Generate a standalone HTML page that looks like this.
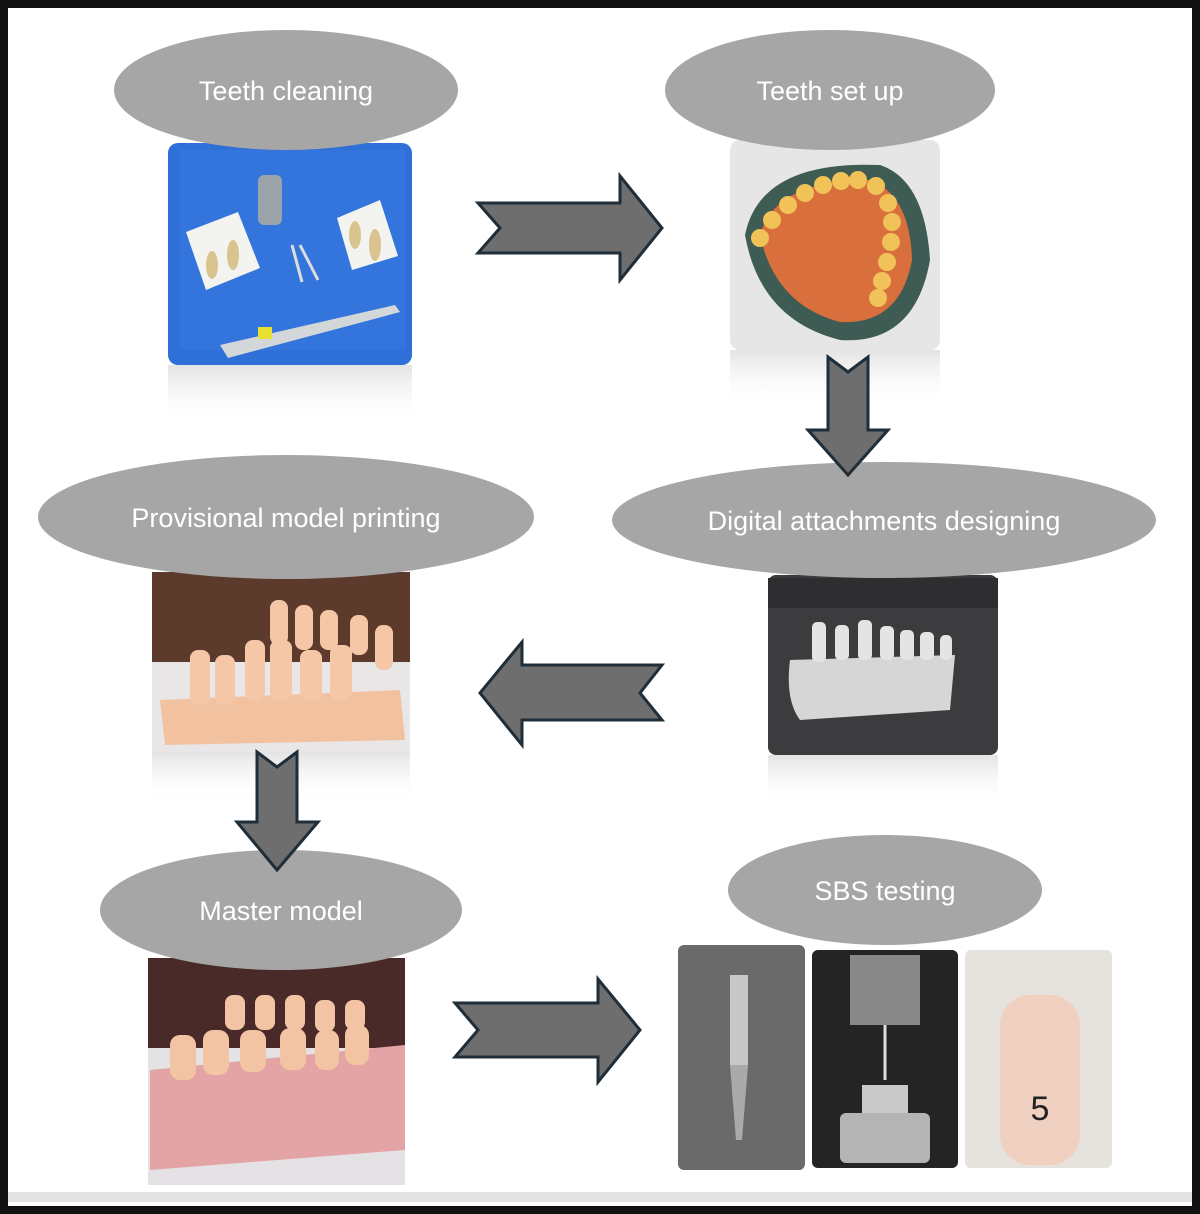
<!DOCTYPE html>
<html><head><meta charset="utf-8"><style>
html,body{margin:0;padding:0;background:#fff}
svg{display:block}
text{font-family:"Liberation Sans",sans-serif;fill:#fff;font-size:27px;text-anchor:middle}
</style></head><body>
<svg width="1200" height="1214" viewBox="0 0 1200 1214" xmlns="http://www.w3.org/2000/svg">
<defs>
<linearGradient id="ref" x1="0" y1="0" x2="0" y2="1"><stop offset="0" stop-color="#ccc" stop-opacity=".55"/><stop offset="1" stop-color="#fff" stop-opacity="0"/></linearGradient>
</defs>
<rect x="0" y="0" width="1200" height="1214" fill="#fff"/>
<rect x="4" y="4" width="1192" height="1206" fill="none" stroke="#111" stroke-width="8"/>
<rect x="8" y="1192" width="1184" height="10" fill="#e4e4e4"/>

<!-- Photo 1 : teeth cleaning -->
<rect x="168" y="365" width="244" height="60" fill="url(#ref)"/>
<rect x="168" y="143" width="244" height="222" rx="10" fill="#2f6fd8"/>
<rect x="180" y="150" width="225" height="200" fill="#3779e0" opacity=".6"/>
<polygon points="186,232 238,212 260,268 206,290" fill="#f3f3f0"/>
<polygon points="337,218 380,200 398,256 352,270" fill="#f3f3f0"/>
<ellipse cx="212" cy="265" rx="6" ry="14" fill="#d9c38f"/><ellipse cx="233" cy="255" rx="6" ry="15" fill="#d9c38f"/>
<ellipse cx="355" cy="235" rx="6" ry="14" fill="#d9c38f"/><ellipse cx="375" cy="245" rx="6" ry="16" fill="#d9c38f"/>
<rect x="258" y="175" width="24" height="50" rx="6" fill="#9aa2aa"/>
<line x1="292" y1="245" x2="302" y2="282" stroke="#ddd" stroke-width="3"/><line x1="300" y1="245" x2="318" y2="280" stroke="#ddd" stroke-width="3"/>
<polygon points="220,345 395,305 400,312 228,358" fill="#d4d7da"/>
<rect x="258" y="327" width="14" height="12" fill="#e8e030"/>

<!-- Photo 2 : teeth set up -->
<rect x="730" y="350" width="210" height="55" fill="url(#ref)"/>
<rect x="730" y="140" width="210" height="210" rx="10" fill="#e6e6e6"/>
<path d="M745,235 Q760,160 880,165 Q925,180 930,260 Q915,345 840,340 Q760,320 745,235Z" fill="#3f5c54"/>
<path d="M760,235 Q775,180 870,180 Q910,195 912,260 Q900,325 840,322 Q775,305 760,235Z" fill="#d86f3c"/>
<g fill="#f0c258">
<circle cx="760" cy="238" r="9"/><circle cx="772" cy="220" r="9"/><circle cx="788" cy="205" r="9"/><circle cx="805" cy="193" r="9"/><circle cx="823" cy="185" r="9"/><circle cx="841" cy="181" r="9"/><circle cx="858" cy="180" r="9"/><circle cx="876" cy="186" r="9"/><circle cx="888" cy="203" r="9"/><circle cx="892" cy="222" r="9"/><circle cx="891" cy="242" r="9"/><circle cx="887" cy="262" r="9"/><circle cx="882" cy="281" r="9"/><circle cx="878" cy="298" r="9"/></g>

<!-- Photo 3 : provisional -->
<rect x="152" y="752" width="258" height="50" fill="url(#ref)"/>
<rect x="152" y="572" width="258" height="180" fill="#e9e6e8"/>
<rect x="152" y="572" width="258" height="90" fill="#5c3a2c"/>
<path d="M160,700 L400,690 L405,740 L165,745Z" fill="#f2c2a0"/>
<g fill="#f6c7a6"><rect x="190" y="650" width="20" height="55" rx="8"/><rect x="215" y="655" width="20" height="50" rx="8"/><rect x="245" y="640" width="20" height="60" rx="8"/><rect x="270" y="640" width="22" height="60" rx="8"/><rect x="300" y="650" width="22" height="50" rx="8"/><rect x="330" y="645" width="22" height="55" rx="8"/><rect x="270" y="600" width="18" height="45" rx="8"/><rect x="295" y="605" width="18" height="45" rx="8"/><rect x="320" y="610" width="18" height="40" rx="8"/><rect x="350" y="615" width="18" height="40" rx="8"/><rect x="375" y="625" width="18" height="45" rx="8"/></g>

<!-- Photo 4 : digital -->
<rect x="768" y="755" width="230" height="50" fill="url(#ref)"/>
<rect x="768" y="575" width="230" height="180" rx="8" fill="#3c3c3e"/>
<rect x="768" y="578" width="230" height="30" fill="#2e2e30"/>
<path d="M790,660 L955,655 L950,710 L800,720 Q785,700 790,660Z" fill="#d6d6d6"/>
<g fill="#e4e4e4"><rect x="812" y="622" width="14" height="40" rx="5"/><rect x="835" y="625" width="14" height="35" rx="5"/><rect x="858" y="620" width="14" height="40" rx="5"/><rect x="880" y="626" width="14" height="34" rx="5"/><rect x="900" y="630" width="14" height="30" rx="5"/><rect x="920" y="632" width="14" height="28" rx="5"/><rect x="940" y="635" width="12" height="25" rx="5"/></g>

<!-- Photo 5 : master -->
<rect x="148" y="958" width="257" height="227" fill="#e4e2e4"/>
<rect x="148" y="958" width="257" height="90" fill="#4a2a28"/>
<path d="M150,1070 L405,1045 L405,1150 L150,1170Z" fill="#e4a4a6"/>
<g fill="#f2c4a4"><rect x="170" y="1035" width="26" height="45" rx="10"/><rect x="203" y="1030" width="26" height="45" rx="10"/><rect x="240" y="1030" width="26" height="42" rx="10"/><rect x="280" y="1028" width="26" height="42" rx="10"/><rect x="315" y="1030" width="24" height="40" rx="10"/><rect x="345" y="1025" width="24" height="40" rx="10"/><rect x="225" y="995" width="20" height="35" rx="8"/><rect x="255" y="995" width="20" height="35" rx="8"/><rect x="285" y="995" width="20" height="35" rx="8"/><rect x="315" y="1000" width="20" height="32" rx="8"/><rect x="345" y="1000" width="20" height="30" rx="8"/></g>

<!-- Photo 6 : SBS -->
<rect x="678" y="945" width="127" height="225" rx="6" fill="#6a6a6a"/>
<rect x="730" y="975" width="18" height="90" fill="#c8c8c8"/><polygon points="730,1065 748,1065 742,1140 736,1140" fill="#aaa"/>
<rect x="812" y="950" width="146" height="218" rx="6" fill="#242424"/>
<rect x="850" y="955" width="70" height="70" fill="#888"/><line x1="885" y1="1025" x2="885" y2="1080" stroke="#ddd" stroke-width="3"/>
<rect x="862" y="1085" width="46" height="28" fill="#c9c9c9"/><rect x="840" y="1113" width="90" height="50" rx="6" fill="#b4b4b4"/>
<rect x="965" y="950" width="147" height="218" rx="6" fill="#e6e2de"/>
<rect x="1000" y="995" width="80" height="170" rx="30" fill="#f0d0c0"/>
<text x="1040" y="1120" style="fill:#222;font-size:34px">5</text>

<!-- Ellipses -->
<g fill="#a6a6a6">
<ellipse cx="286" cy="90" rx="172" ry="60"/>
<ellipse cx="830" cy="90" rx="165" ry="60"/>
<ellipse cx="286" cy="517" rx="248" ry="62"/>
<ellipse cx="884" cy="520" rx="272" ry="58"/>
<ellipse cx="281" cy="910" rx="181" ry="60"/>
<ellipse cx="885" cy="890" rx="157" ry="55"/>
</g>
<text x="286" y="100">Teeth cleaning</text>
<text x="830" y="100">Teeth set up</text>
<text x="286" y="527">Provisional model printing</text>
<text x="884" y="530">Digital attachments designing</text>
<text x="281" y="920">Master model</text>
<text x="885" y="900">SBS testing</text>

<!-- Arrows -->
<g fill="#6e6e6e" stroke="#1f2e38" stroke-width="3" stroke-linejoin="miter">
<polygon points="478,203 620,203 620,176 662,228 620,280 620,253 478,253 500,228"/>
<polygon points="828,357 848,372 868,357 868,430 888,430 848,475 808,430 828,430"/>
<polygon points="662,665 522,665 522,642 480,693 522,745 522,720 662,720 640,693"/>
<polygon points="257,752 277,767 297,752 297,822 318,822 277,870 237,822 257,822"/>
<polygon points="455,1003 598,1003 598,979 640,1030 598,1082 598,1057 455,1057 478,1030"/>
</g>
</svg>
</body></html>
